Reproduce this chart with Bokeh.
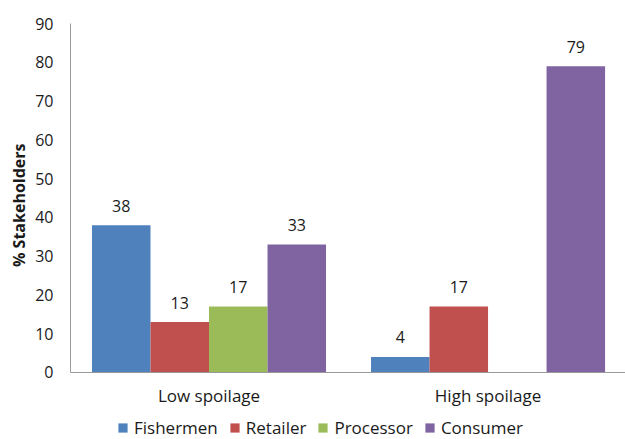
from bokeh.plotting import figure
from bokeh.models import ColumnDataSource, Range1d, FixedTicker, Legend, LegendItem, Title
from bokeh.core.properties import value
from bokeh.embed import file_html
from bokeh.resources import INLINE

# ---- data ----
groups = ["Low spoilage", "High spoilage"]
series = ["Fishermen", "Retailer", "Processor", "Consumer"]
fishermen = [38, 4]
retailer = [13, 17]
processor = [17, 0]
consumer = [33, 79]
colors = ["#4F81BD", "#C0504D", "#9BBB59", "#8064A2"]
y_ticks = [0, 10, 20, 30, 40, 50, 60, 70, 80, 90]
y_title = "% Stakeholders"

values = [fishermen, retailer, processor, consumer]

FONT = "Open Sans"
TXT = "#1a1a1a"
AXIS_GRAY = "#999999"

bar_w = 0.2097
centers = [i + 0.5 for i in range(len(groups))]

# frame spans the whole height below the top margin; the value axis runs 0..90,
# the space below 0 holds the category labels and the legend
p = figure(width=625, height=439,
           x_range=Range1d(0.0036, 1.9926), y_range=Range1d(-17.28, 90),
           output_backend="svg", toolbar_location=None,
           min_border_left=70, min_border_right=0,
           min_border_top=23, min_border_bottom=0)

p.xgrid.visible = False
p.ygrid.visible = False
p.outline_line_color = None
p.background_fill_color = "white"
p.border_fill_color = "white"

items = []
for k, (name, vals, col) in enumerate(zip(series, values, colors)):
    off = (k - (len(series) - 1) / 2) * bar_w
    xs = [c + off for c in centers]
    src = ColumnDataSource(dict(x=xs, top=vals))
    p.vbar(x="x", top="top", bottom=0, width=bar_w, source=src,
           fill_color=col, line_color=None)
    # legend swatch: square markers of size 0 (nothing drawn on the plot)
    proxy = p.scatter(x="x", y="top", source=src, marker="square", size=0,
                      fill_color=col, line_color=None)
    items.append(LegendItem(label=name, renderers=[proxy]))
    # value labels (only for drawn bars)
    lx = [x for x, v in zip(xs, vals) if v > 0]
    ly = [v for v in vals if v > 0]
    lt = [str(v) for v in vals if v > 0]
    lsrc = ColumnDataSource(dict(x=lx, y=ly, t=lt))
    p.text(x="x", y="y", text="t", source=lsrc,
           text_font=value(FONT), text_font_size="16px", text_color=TXT,
           text_align="center", text_baseline="alphabetic", y_offset=-19.5)

# y axis
ya = p.yaxis[0]
ya.ticker = FixedTicker(ticks=y_ticks)
ya.bounds = (0, 90)
ya.major_label_text_font = FONT
ya.major_label_text_font_size = "16px"
ya.major_label_text_color = TXT
ya.major_label_standoff = 17
ya.major_tick_line_color = None
ya.minor_tick_line_color = None
ya.major_tick_out = 0
ya.major_tick_in = 0
ya.minor_tick_out = 0
ya.axis_line_color = AXIS_GRAY

# y axis title, placed next to the 0..90 part of the axis
p.add_layout(Title(text=y_title, align="right", offset=120, standoff=5,
                   text_font=FONT, text_font_size="16px",
                   text_font_style="bold", text_color=TXT), "left")

# x axis, drawn at value 0
xa = p.xaxis[0]
xa.fixed_location = 0
xa.ticker = FixedTicker(ticks=centers)
xa.major_label_overrides = {c: g for c, g in zip(centers, groups)}
xa.major_label_text_font = FONT
xa.major_label_text_font_size = "17px"
xa.major_label_text_color = TXT
xa.major_label_standoff = 12
xa.major_tick_line_color = None
xa.minor_tick_line_color = None
xa.major_tick_out = 0
xa.major_tick_in = 0
xa.minor_tick_out = 0
xa.axis_line_color = AXIS_GRAY

legend = Legend(items=items, orientation="horizontal", location=(41, 0),
                padding=0, margin=0, spacing=5,
                glyph_width=23, glyph_height=23, label_height=23,
                label_standoff=0,
                label_text_font=FONT, label_text_font_size="17px",
                label_text_color=TXT,
                border_line_color=None, background_fill_alpha=0)
p.add_layout(legend)

open("out.html", "w").write(file_html(p, INLINE))
